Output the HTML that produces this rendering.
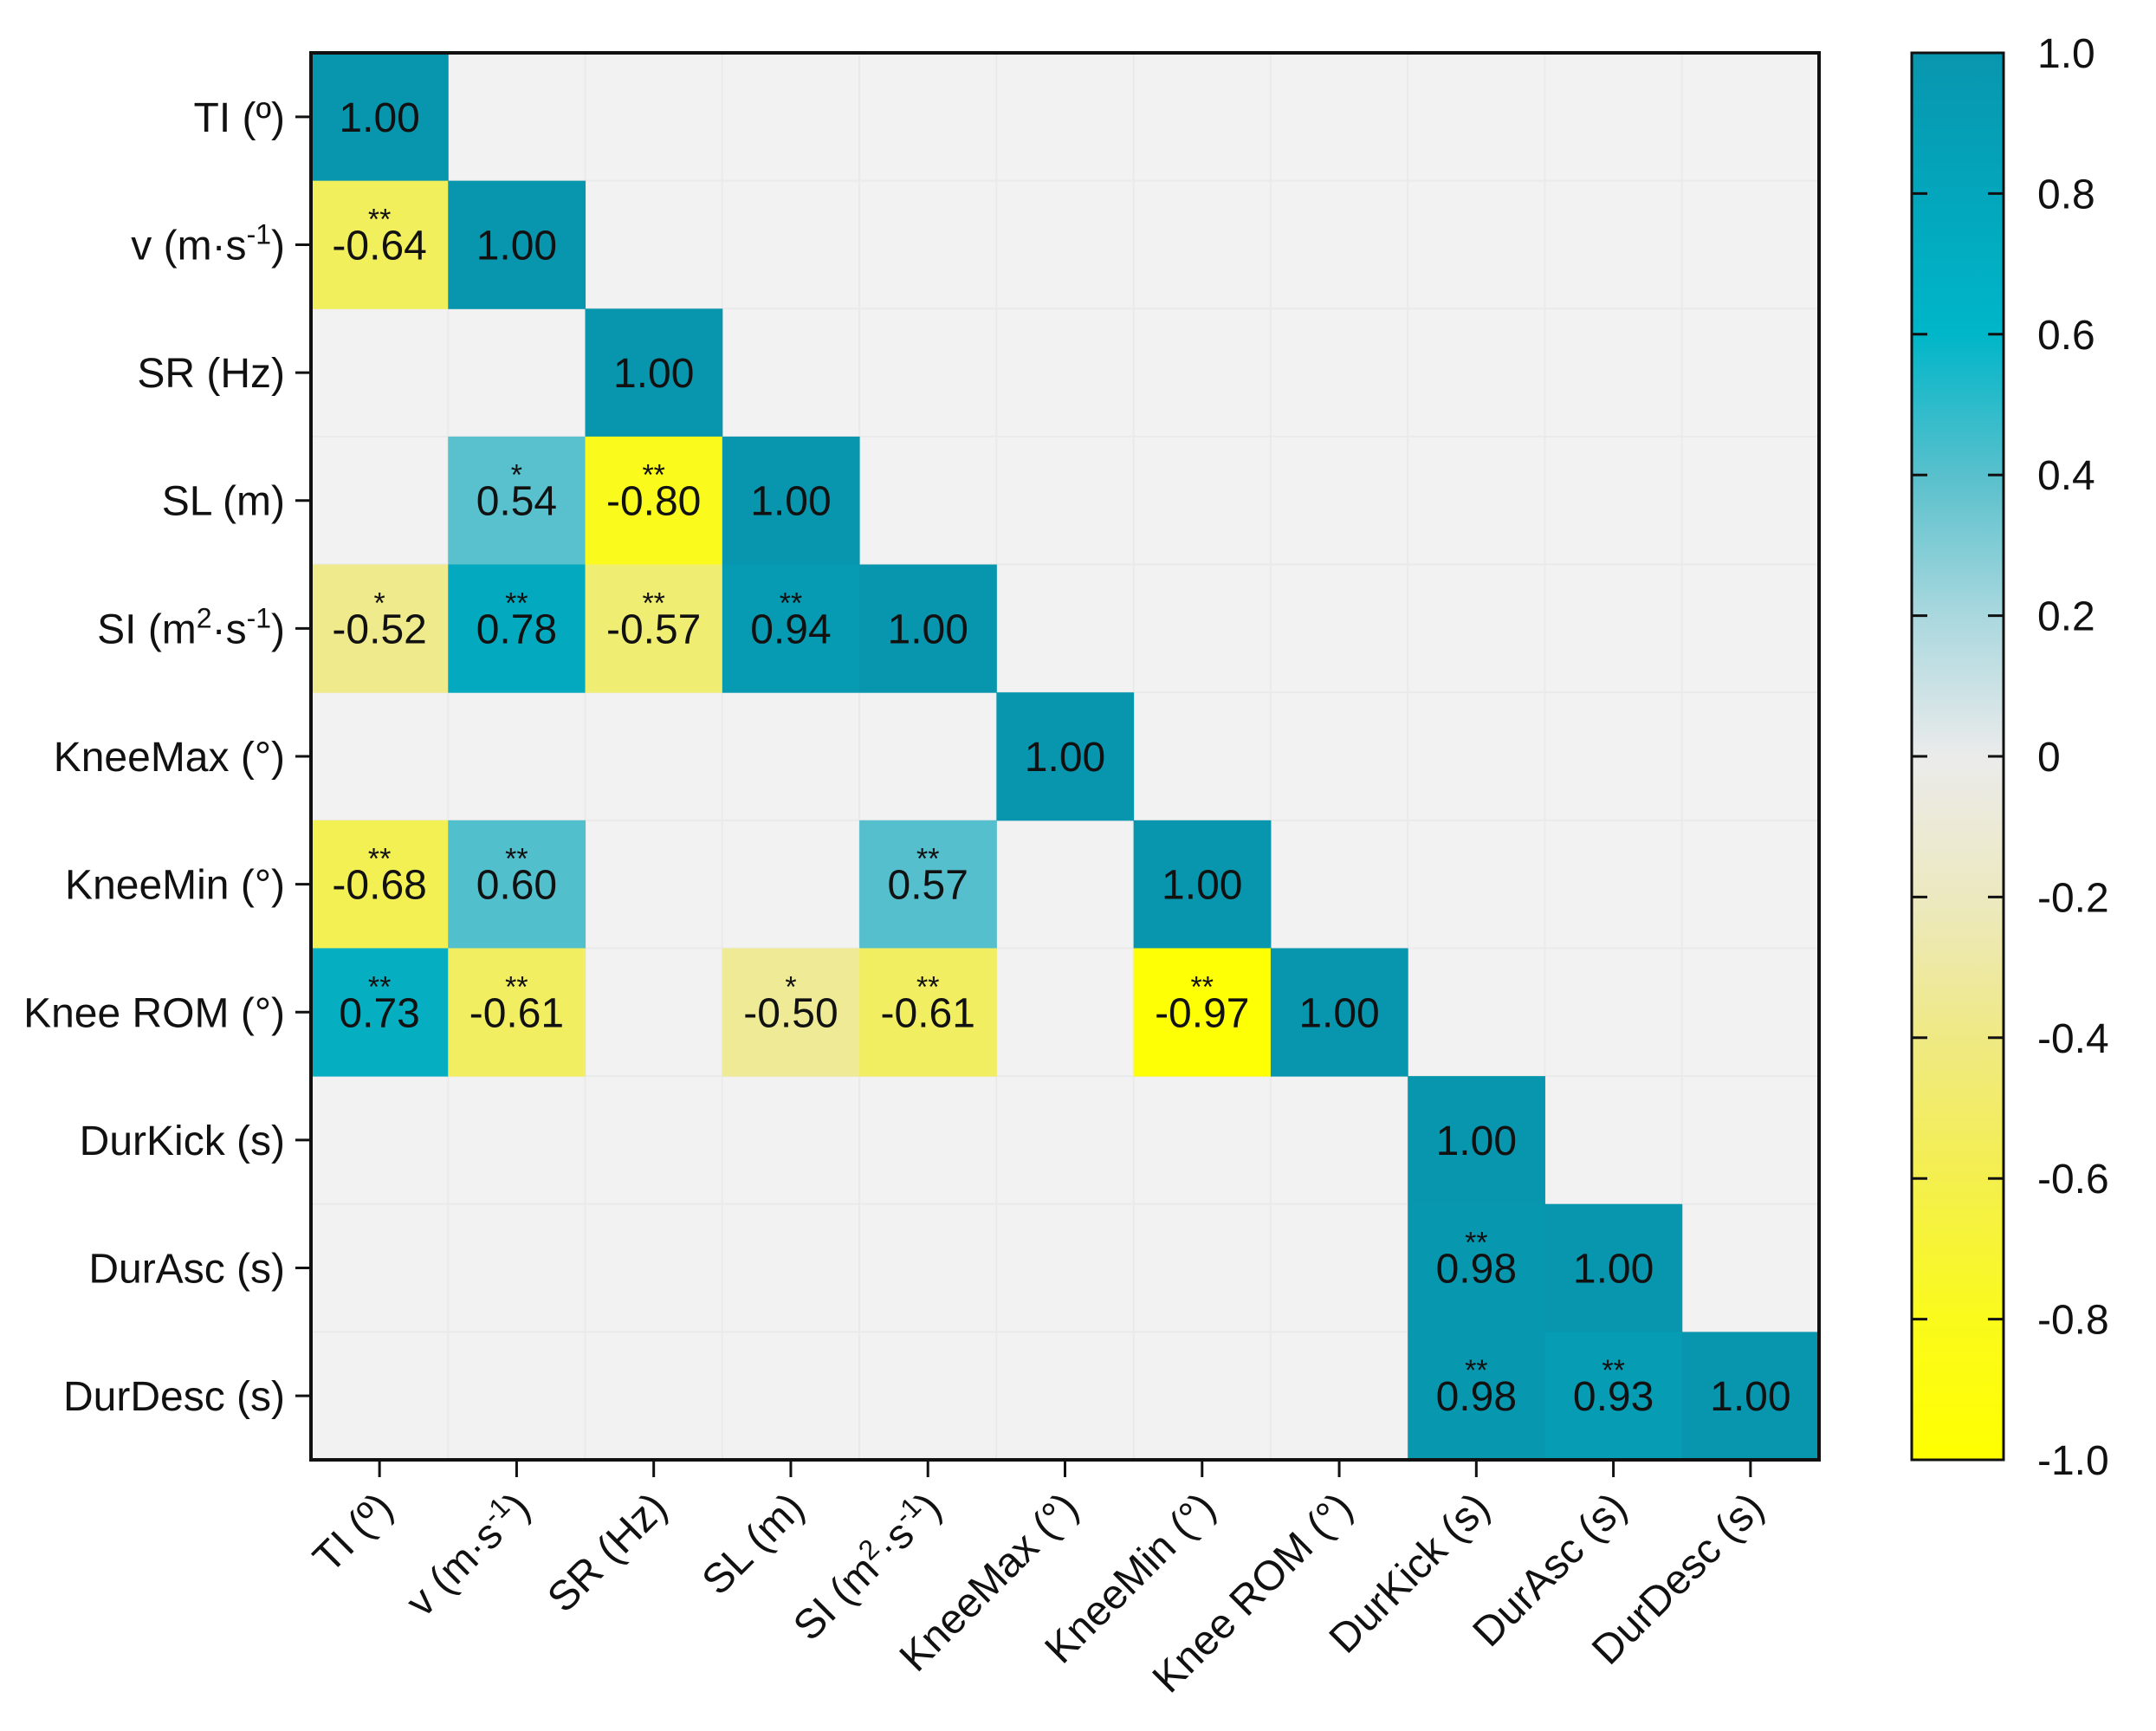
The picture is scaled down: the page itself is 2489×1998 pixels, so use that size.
<!DOCTYPE html>
<html><head><meta charset="utf-8"><style>
html,body{margin:0;padding:0;background:#fff;}
svg{display:block;font-family:"Liberation Sans",Arial,sans-serif;}
</style></head><body>
<svg id="chart" width="2489" height="1998" viewBox="0 0 2489 1998">
<defs>
<linearGradient id="cbgrad" x1="0" y1="0" x2="0" y2="1">
<stop offset="0" stop-color="#0896ae"/><stop offset="0.1" stop-color="#03a6bc"/><stop offset="0.2" stop-color="#00b6c9"/>
<stop offset="0.3" stop-color="#58c0cc"/><stop offset="0.4" stop-color="#a9d8de"/><stop offset="0.5" stop-color="#ebebeb"/>
<stop offset="0.6" stop-color="#ece9c0"/><stop offset="0.7" stop-color="#efe984"/><stop offset="0.8" stop-color="#f4ef4e"/>
<stop offset="0.9" stop-color="#fafa1c"/><stop offset="1" stop-color="#ffff00"/>
</linearGradient>
</defs>
<g id="cells"></g>
<g id="axes"></g>
</svg>
<script>
const labels = ["TI (º)","v (m·s-1)","SR (Hz)","SL (m)","SI (m2·s-1)","KneeMax (°)","KneeMin (°)","Knee ROM (°)","DurKick (s)","DurAsc (s)","DurDesc (s)"];
const row0 = [1.00];
const row1 = [-0.64,1.00];
const row2 = [null,null,1.00];
const row3 = [null,0.54,-0.80,1.00];
const row4 = [-0.52,0.78,-0.57,0.94,1.00];
const row5 = [null,null,null,null,null,1.00];
const row6 = [-0.68,0.60,null,null,0.57,null,1.00];
const row7 = [0.73,-0.61,null,-0.50,-0.61,null,-0.97,1.00];
const row8 = [null,null,null,null,null,null,null,null,1.00];
const row9 = [null,null,null,null,null,null,null,null,0.98,1.00];
const row10 = [null,null,null,null,null,null,null,null,0.98,0.93,1.00];
const sig0 = [""];
const sig1 = ["**",""];
const sig2 = ["","",""];
const sig3 = ["","*","**",""];
const sig4 = ["*","**","**","**",""];
const sig5 = ["","","","","",""];
const sig6 = ["**","**","","","**","",""];
const sig7 = ["**","**","","*","**","","**",""];
const sig8 = ["","","","","","","","",""];
const sig9 = ["","","","","","","","","**",""];
const sig10 = ["","","","","","","","","**","**",""];
const cbTicks = [1.0,0.8,0.6,0.4,0.2,0,-0.2,-0.4,-0.6,-0.8,-1.0];
const cbTickLabels = ["1.0","0.8","0.6","0.4","0.2","0","-0.2","-0.4","-0.6","-0.8","-1.0"];

const rows=[row0,row1,row2,row3,row4,row5,row6,row7,row8,row9,row10];
const sigs=[sig0,sig1,sig2,sig3,sig4,sig5,sig6,sig7,sig8,sig9,sig10];
const NS="http://www.w3.org/2000/svg";
const L=359,R=2100,T=61,B=1685,n=labels.length;
const cw=(R-L)/n,ch=(B-T)/n;
const xPos=i=>L+i*cw, yPos=i=>T+i*ch;
const cbL=2207,cbR=2313;
const cbY=v=>T+(1-v)/2*(B-T);
const stops=[[1,[8,150,174]],[0.8,[2,168,190]],[0.7,[8,176,196]],[0.62,[80,190,204]],[0.4,[104,196,207]],[0.2,[169,216,222]],[0,[235,235,235]],[-0.2,[236,233,200]],[-0.5,[239,234,150]],[-0.6,[241,238,100]],[-0.7,[244,240,80]],[-0.8,[250,250,28]],[-1,[255,255,0]]];
function color(v){for(let k=0;k<stops.length-1;k++){const a=stops[k],b=stops[k+1];if(v<=a[0]&&v>=b[0]){const t=(a[0]-v)/(a[0]-b[0]);const c=a[1].map((x,j)=>Math.round(x+(b[1][j]-x)*t));return `rgb(${c.join(',')})`;}}return '#eee';}
function mk(tag,attrs,parent){const e=document.createElementNS(NS,tag);for(const k in attrs)e.setAttribute(k,attrs[k]);parent.appendChild(e);return e;}
const cells=document.getElementById('cells'),axes=document.getElementById('axes');
const bg=mk('rect',{x:L,y:T,width:R-L,height:B-T,fill:'#f2f2f2'},cells);


for(let i=1;i<n;i++){mk('line',{x1:xPos(i),y1:T,x2:xPos(i),y2:B,stroke:'#eaeaea','stroke-width':2},cells);mk('line',{x1:L,y1:yPos(i),x2:R,y2:yPos(i),stroke:'#eaeaea','stroke-width':2},cells);}
rows.forEach((row,r)=>{row.forEach((v,c)=>{if(v===null)return;
 const rect=mk('rect',{x:xPos(c),y:yPos(r),width:cw+0.5,height:ch+0.5,fill:color(v)},cells);
 
 
 const t=mk('text',{x:xPos(c)+cw/2,y:yPos(r)+ch/2+17,'font-size':48,'text-anchor':'middle',fill:'#111'},cells);
 t.textContent=v.toFixed(2);
 
 
 const s=sigs[r][c];
 if(s){const st=mk('text',{x:xPos(c)+cw/2,y:yPos(r)+ch/2-18,'font-size':34,'text-anchor':'middle',fill:'#111'},cells);st.textContent=s;
 
 }
});});
const frame=mk('rect',{x:L,y:T,width:R-L,height:B-T,fill:'none',stroke:'#111','stroke-width':4},axes);


function setLabel(t,lab){
 if(lab.indexOf('-1')<0){t.textContent=lab;return;}
 const parts=lab.split(/(2|-1)/);
 parts.forEach(p=>{if(!p)return;const ts=document.createElementNS(NS,'tspan');
  if(p==='2'||p==='-1'){ts.setAttribute('baseline-shift','super');ts.setAttribute('font-size','32');}
  ts.textContent=p;t.appendChild(ts);});}
labels.forEach((lab,i)=>{
 const yc=yPos(i)+ch/2;
 mk('line',{x1:L-18,y1:yc,x2:L,y2:yc,stroke:'#111','stroke-width':3},axes);
 const t=mk('text',{x:L-30,y:yc+17,'font-size':48,'text-anchor':'end',fill:'#111'},axes);
 setLabel(t,lab);
 
 
 const xc=xPos(i)+cw/2;
 mk('line',{x1:xc,y1:B,x2:xc,y2:B+20,stroke:'#111','stroke-width':3},axes);
 const tx=mk('text',{x:0,y:0,'font-size':48,'text-anchor':'end',fill:'#111',transform:`translate(${xc+18},${B+58}) rotate(-45)`},axes);
 setLabel(tx,lab);
 
 
});
const cb=mk('rect',{x:cbL,y:T,width:cbR-cbL,height:B-T,fill:'url(#cbgrad)',stroke:'#111','stroke-width':3},axes);


cbTicks.forEach((v,i)=>{const y=cbY(v);
 if(i>0&&i<cbTicks.length-1){mk('line',{x1:cbL,y1:y,x2:cbL+18,y2:y,stroke:'#111','stroke-width':3},axes);mk('line',{x1:cbR-18,y1:y,x2:cbR,y2:y,stroke:'#111','stroke-width':3},axes);}
 const t=mk('text',{x:2352,y:y+17,'font-size':48,fill:'#111'},axes);t.textContent=cbTickLabels[i];
 
 
});
</script>
</body></html>
